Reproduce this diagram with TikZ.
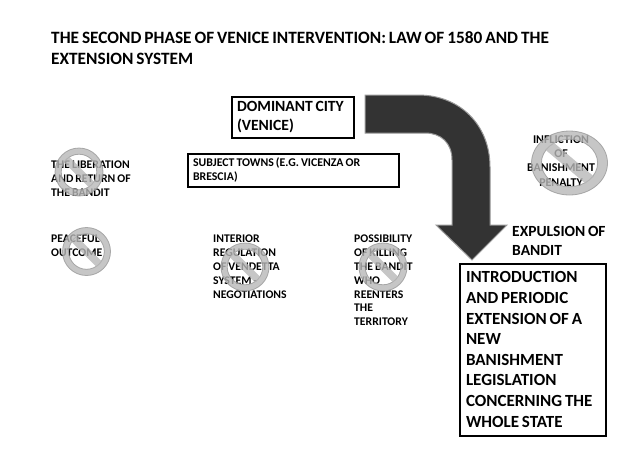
\documentclass[tikz,border=0pt]{standalone}
\usepackage{fontspec}
\setmainfont{Carlito}
\newcommand{\tightsp}{\spaceskip=0.17em\relax\xspaceskip=0.17em\relax}
\tikzset{
  every node/.append style={execute at begin node=\tightsp},
  lbl/.style 2 args={inner sep=0pt,align=left,anchor=north west,text width=#2,font=\bfseries\fontsize{#1}{13.8}\selectfont},
  boxed/.style={draw=black,line width=2pt,fill=white,inner ysep=0pt,anchor=north west,align=left},
  nosym/.style={fill=nogray,draw=noedge,line width=0.8pt,even odd rule,opacity=0.8}
}
\definecolor{nogray}{gray}{0.72}
\definecolor{noedge}{gray}{0.6}
\definecolor{arrowdark}{gray}{0.2}
\definecolor{arrowedge}{gray}{0.6}
\newcommand{\nosymbol}[4]{%
  \fill[nosym] (#1,#2) ellipse [x radius=#3,y radius=#4]
     (#1,#2) ellipse [x radius=0.74*#3,y radius=0.74*#4];
  \fill[nosym,draw=none] (#1-0.64*#3,#2-0.42*#4) -- (#1-0.42*#3,#2-0.64*#4) -- (#1+0.64*#3,#2+0.42*#4) -- (#1+0.42*#3,#2+0.64*#4) -- cycle;
}
\begin{document}
\begin{tikzpicture}[x=1pt,y=-1pt]
\useasboundingbox (0,0) rectangle (631,456);
\fill[white] (0,0) rectangle (631,456);

\node[inner sep=0pt,anchor=north west,align=left,text width=560pt,font=\bfseries\fontsize{17.3}{21}\selectfont] (title) at (51,31) {THE SECOND PHASE OF VENICE INTERVENTION: LAW OF 1580 AND THE\\EXTENSION SYSTEM};

\node[boxed,inner xsep=5pt,text width=112pt,minimum height=41pt,font=\bfseries\fontsize{15.6}{19}\selectfont] (city) at (231,96) {DOMINANT CITY\\(VENICE)};
\node[boxed,inner xsep=5pt,text width=201pt,minimum height=33pt,font=\bfseries\fontsize{11.8}{14}\selectfont] (towns) at (187,153) {SUBJECT TOWNS (E.G. VICENZA OR\\BRESCIA)};

\draw[fill=arrowdark,draw=arrowedge,line width=1pt,line join=miter]
  (365,95) -- (418,95) .. controls (460,95) and (490,125) .. (490,167)
  -- (490,225) -- (507,225) -- (472,260) -- (436,225) -- (452,225) -- (452,160)
  .. controls (452,143) and (441,133) .. (425,133) -- (365,133) -- cycle;

\node[lbl={11.7}{90pt}] (lib) at (51,161) {THE LIBERATION\\AND RETURN OF\\THE BANDIT};
\node[lbl={11.7}{70pt}] (peace) at (51,235) {PEACEFUL\\OUTCOME};
\node[lbl={11.7}{90pt}] (interior) at (213,235) {INTERIOR\\REGULATION\\OF VENDETTA\\SYSTEM -\\NEGOTIATIONS};
\node[lbl={11.7}{70pt}] (kill) at (354,235) {POSSIBILITY\\OF KILLING\\THE BANDIT\\WHO\\REENTERS\\THE\\TERRITORY};
\node[font=\bfseries\fontsize{11.9}{14.4}\selectfont,align=center,inner sep=0pt,anchor=north] (inflict) at (561,135) {INFLICTION\\OF\\BANISHMENT\\PENALTY};

\nosymbol{79}{172}{24}{24}
\nosymbol{86.5}{251.5}{24}{24}
\nosymbol{245}{267}{24}{24}
\nosymbol{383}{267}{24}{24}
\nosymbol{569.5}{163}{38}{32}

\node[inner sep=0pt,anchor=north west,align=left,text width=110pt,font=\bfseries\fontsize{15.5}{19}\selectfont] (exp) at (512,226) {EXPULSION OF\\BANDIT};
\node[boxed,inner xsep=6pt,text width=134pt,minimum height=172pt,font=\bfseries\fontsize{17}{20.6}\selectfont] (law) at (459,262.5) {INTRODUCTION\\AND PERIODIC\\EXTENSION OF A\\NEW\\BANISHMENT\\LEGISLATION\\CONCERNING THE\\WHOLE STATE};
\end{tikzpicture}
\end{document}
